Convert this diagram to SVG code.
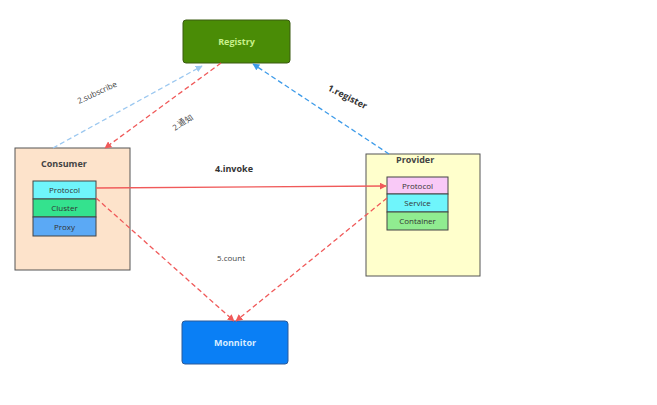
<svg xmlns="http://www.w3.org/2000/svg" width="657" height="405" viewBox="0 0 657 405">
<style>
text{font-family:"Open Sans","DejaVu Sans",sans-serif;}
.lbl{font-size:8px;fill:#444;}
.blbl{font-size:9px;font-weight:bold;fill:#333;}
.cell{stroke:#444;stroke-width:1;}
.ct{font-size:8px;fill:#333;text-anchor:middle;}
.title{font-size:9px;font-weight:bold;fill:#444;}
</style>
<defs>
<marker id="ar" viewBox="0 0 10 10" refX="9" refY="5" markerWidth="7" markerHeight="7" orient="auto" markerUnits="userSpaceOnUse"><path d="M0,0 L10,5 L0,10 z" fill="#f05a5a"/></marker>
<marker id="ab" viewBox="0 0 10 10" refX="9" refY="5" markerWidth="7" markerHeight="7" orient="auto" markerUnits="userSpaceOnUse"><path d="M0,0 L10,5 L0,10 z" fill="#3d9be9"/></marker>
<marker id="alb" viewBox="0 0 10 10" refX="9" refY="5" markerWidth="7" markerHeight="7" orient="auto" markerUnits="userSpaceOnUse"><path d="M0,0 L10,5 L0,10 z" fill="#9cc8f0"/></marker>
</defs>
<rect width="657" height="405" fill="#fff"/>
<g id="registry">
<rect x="183" y="20" width="107" height="43" rx="3" fill="#4a8c06" stroke="#3a5a10" stroke-width="1"/>
<text x="236.5" y="45" text-anchor="middle" font-size="9" font-weight="bold" fill="#c8f08a">Registry</text>
</g>
<g id="consumer">
<rect x="15" y="148" width="115" height="122" fill="#fde3cb" stroke="#555" stroke-width="1"/>
<text class="title" x="41" y="167">Consumer</text>
<rect class="cell" x="33" y="181" width="63" height="18" fill="#6ff5fb"/>
<text class="ct" x="64.5" y="193">Protocol</text>
<rect class="cell" x="33" y="199" width="63" height="18" fill="#34e28e"/>
<text class="ct" x="64.5" y="211">Cluster</text>
<rect class="cell" x="33" y="217" width="63" height="19" fill="#5ba9f5"/>
<text class="ct" x="64.5" y="230">Proxy</text>
</g>
<g id="provider">
<rect x="366" y="154" width="114" height="122" fill="#ffffcc" stroke="#555" stroke-width="1"/>
<text class="title" x="396" y="163">Provider</text>
<rect class="cell" x="387" y="177" width="61" height="17" fill="#f9c9f7"/>
<text class="ct" x="417.5" y="189">Protocol</text>
<rect class="cell" x="387" y="194" width="61" height="18" fill="#6ff5fb"/>
<text class="ct" x="417.5" y="206">Service</text>
<rect class="cell" x="387" y="212" width="61" height="18" fill="#90ec90"/>
<text class="ct" x="417.5" y="224">Container</text>
</g>
<g id="monitor">
<rect x="182" y="321" width="106" height="43" rx="3" fill="#0a7ff5" stroke="#2a5a9a" stroke-width="1"/>
<text x="235" y="346" text-anchor="middle" font-size="9" font-weight="bold" fill="#d8ecff">Monnitor</text>
</g>
<g id="connectors" fill="none" stroke-width="1.3">
<line x1="53" y1="148" x2="202" y2="66" stroke="#9cc8f0" stroke-dasharray="5,3" marker-end="url(#alb)"/>
<line x1="221" y1="63" x2="105" y2="148" stroke="#f05a5a" stroke-dasharray="5,3" marker-end="url(#ar)"/>
<line x1="389" y1="154" x2="253" y2="64" stroke="#3d9be9" stroke-dasharray="5,3" marker-end="url(#ab)"/>
<line x1="96" y1="188" x2="386" y2="186" stroke="#f05a5a" marker-end="url(#ar)"/>
<line x1="96" y1="198" x2="234" y2="321" stroke="#f05a5a" stroke-dasharray="5,3" marker-end="url(#ar)"/>
<line x1="387" y1="198" x2="236" y2="321" stroke="#f05a5a" stroke-dasharray="5,3" marker-end="url(#ar)"/>
</g>
<text class="lbl" transform="translate(79,104) rotate(-25)">2.subscribe</text>
<text class="lbl" transform="translate(175,131) rotate(-35)">2.通知</text>
<text class="blbl" transform="translate(327,90) rotate(27)">1.register</text>
<text class="blbl" x="215" y="172">4.invoke</text>
<text class="lbl" x="217" y="261">5.count</text>
</svg>
